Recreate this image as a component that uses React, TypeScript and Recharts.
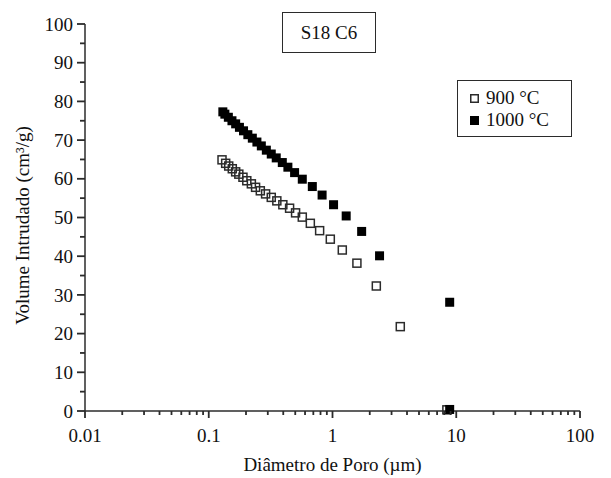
import { Legend, Scatter, ScatterChart, XAxis, YAxis } from "recharts";

// pore diameter (µm) vs intruded volume (cm³/g)
const diam900 = [
  0.128, 0.137, 0.145, 0.155, 0.165, 0.175, 0.189, 0.203, 0.221, 0.239, 0.261, 0.288, 0.32,
  0.355, 0.397, 0.45, 0.503, 0.57, 0.662, 0.787, 0.96, 1.2, 1.575, 2.26, 3.53, 8.4,
];
const vol900 = [
  64.9, 64.0, 63.3, 62.6, 61.8, 61.2, 60.4, 59.5, 58.7, 57.8, 56.9, 56.1, 55.2, 54.3, 53.3,
  52.4, 51.2, 50.1, 48.5, 46.6, 44.4, 41.6, 38.2, 32.3, 21.8, 0.3,
];

const diam1000 = [
  0.13, 0.135, 0.144, 0.154, 0.165, 0.177, 0.191, 0.207, 0.225, 0.245, 0.266, 0.292, 0.32,
  0.351, 0.393, 0.436, 0.494, 0.57, 0.687, 0.824, 1.02, 1.29, 1.72, 2.4, 8.85, 8.85,
];
const vol1000 = [
  77.3, 76.7, 75.9, 75.0, 74.2, 73.3, 72.4, 71.4, 70.5, 69.5, 68.5, 67.4, 66.4, 65.4, 64.2,
  63.0, 61.6, 59.9, 58.0, 55.8, 53.3, 50.4, 46.4, 40.1, 28.1, 0.4,
];

const xMajor = [0.01, 0.1, 1, 10, 100];
const xMinor = [
  0.02, 0.03, 0.04, 0.05, 0.06, 0.07, 0.08, 0.09, 0.2, 0.3, 0.4, 0.5, 0.6, 0.7, 0.8, 0.9, 2,
  3, 4, 5, 6, 7, 8, 9, 20, 30, 40, 50, 60, 70, 80, 90,
];
const yMajor = [0, 10, 20, 30, 40, 50, 60, 70, 80, 90, 100];
const yMinor = [5, 15, 25, 35, 45, 55, 65, 75, 85, 95];

const series = [
  { name: "900 °C", filled: false },
  { name: "1000 °C", filled: true },
];

const FONT = '"Liberation Serif", "Times New Roman", serif';
const INK = "#2b2b2b";

const toPoints = (xs: number[], ys: number[]) => xs.map((x, i) => ({ x, y: ys[i] }));

const OpenSquare = (props: any) => (
  <rect
    x={props.cx - 4}
    y={props.cy - 4}
    width={8}
    height={8}
    fill="none"
    stroke={INK}
    strokeWidth={1.5}
  />
);

const FilledSquare = (props: any) => (
  <rect x={props.cx - 4.5} y={props.cy - 4.5} width={9} height={9} fill="#000" />
);

// tick mark + label drawn together so minor ticks can be shorter
function XTick({ x, y, payload }: any) {
  const major = xMajor.includes(payload.value);
  return (
    <g>
      <line x1={x} x2={x} y1={y} y2={y + (major ? 7 : 4)} stroke={INK} strokeWidth={1.8} />
      {major && (
        <text x={x} y={y + 31} textAnchor="middle" fontFamily={FONT} fontSize={19} fill="#111">
          {payload.value}
        </text>
      )}
    </g>
  );
}

function YTick({ x, y, payload }: any) {
  const major = yMajor.includes(payload.value);
  return (
    <g>
      <line x1={x - (major ? 8 : 5)} x2={x} y1={y} y2={y} stroke={INK} strokeWidth={1.8} />
      {major && (
        <text x={x - 12} y={y} dy="0.35em" textAnchor="end" fontFamily={FONT} fontSize={19} fill="#111">
          {payload.value}
        </text>
      )}
    </g>
  );
}

function YTitle({ viewBox }: any) {
  const cx = 22;
  const cy = viewBox.y + viewBox.height / 2 + 8;
  return (
    <text
      x={cx}
      y={cy}
      dy="0.35em"
      textAnchor="middle"
      transform={`rotate(-90, ${cx}, ${cy})`}
      fontFamily={FONT}
      fontSize={19}
      fill="#111"
    >
      Volume Intrudado (cm³/g)
    </text>
  );
}

function LegendBox() {
  return (
    <div
      style={{
        width: 115,
        height: 57,
        boxSizing: "border-box",
        border: `1.5px solid ${INK}`,
        background: "#fff",
        padding: "6px 0 0 12px",
        fontFamily: FONT,
        fontSize: 19,
        color: "#111",
        lineHeight: "22px",
      }}
    >
      {series.map((s) => (
        <div key={s.name} style={{ display: "flex", alignItems: "center" }}>
          <svg width={9} height={9} style={{ marginRight: 7 }}>
            {s.filled ? (
              <rect x={0} y={0} width={9} height={9} fill="#000" />
            ) : (
              <rect x={0.75} y={0.75} width={7.5} height={7.5} fill="none" stroke={INK} strokeWidth={1.5} />
            )}
          </svg>
          <span>{s.name}</span>
        </div>
      ))}
    </div>
  );
}

export default function App() {
  const allXTicks = [...xMajor, ...xMinor].sort((a, b) => a - b);
  const allYTicks = [...yMajor, ...yMinor].sort((a, b) => a - b);

  return (
    <div style={{ position: "absolute", left: 0, top: 0, width: 611, height: 478, background: "#fff" }}>
      <ScatterChart width={611} height={478} margin={{ top: 24, right: 31, bottom: 0, left: 0 }}>
        <XAxis
          dataKey="x"
          type="number"
          scale="log"
          domain={[0.01, 100]}
          allowDataOverflow
          ticks={allXTicks}
          interval={0}
          tick={<XTick />}
          tickLine={false}
          tickSize={0}
          tickMargin={0}
          height={67}
          axisLine={{ stroke: INK, strokeWidth: 1.5 }}
          label={{
            value: "Diâmetro de Poro (µm)",
            position: "insideBottom",
            offset: 7,
            fontFamily: FONT,
            fontSize: 19,
            fill: "#111",
          }}
        />
        <YAxis
          dataKey="y"
          type="number"
          domain={[0, 100]}
          ticks={allYTicks}
          interval={0}
          tick={<YTick />}
          tickLine={false}
          tickSize={0}
          tickMargin={0}
          width={85}
          axisLine={{ stroke: INK, strokeWidth: 1.5 }}
          label={{ content: (p: any) => <YTitle {...p} /> }}
        />
        <Legend
          layout="vertical"
          align="center"
          verticalAlign="middle"
          wrapperStyle={{ left: 457, top: 80, width: 115 }}
          content={() => <LegendBox />}
        />
        <Scatter
          name="900 °C"
          data={toPoints(diam900, vol900)}
          shape={<OpenSquare />}
          isAnimationActive={false}
        />
        <Scatter
          name="1000 °C"
          data={toPoints(diam1000, vol1000)}
          shape={<FilledSquare />}
          isAnimationActive={false}
        />
      </ScatterChart>
      <div
        style={{
          position: "absolute",
          left: 282,
          top: 12,
          width: 94,
          height: 41,
          boxSizing: "border-box",
          border: `1.5px solid ${INK}`,
          fontFamily: FONT,
          fontSize: 19,
          color: "#111",
          display: "flex",
          alignItems: "center",
          justifyContent: "center",
        }}
      >
        S18 C6
      </div>
    </div>
  );
}
